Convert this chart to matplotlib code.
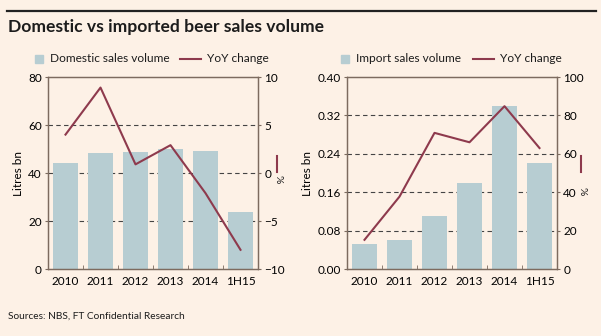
import numpy as np
import matplotlib.pyplot as plt
from matplotlib.lines import Line2D
from matplotlib.patches import Rectangle

# Data
years = ['2010', '2011', '2012', '2013', '2014', '1H15']
domestic_vol = [44.3, 48.3, 48.9, 50.0, 49.3, 23.9]
domestic_yoy = [4.0, 8.9, 0.9, 2.9, -2.1, -8.0]
import_vol = [0.052, 0.061, 0.110, 0.180, 0.340, 0.220]
import_yoy = [15.2, 37.7, 70.9, 66.0, 84.8, 63.0]

bg = '#fdf1e6'
bar_col = '#b7cdd2'
line_col = '#8e3a4d'
spine_col = '#7d6b5f'
txt = '#1c1c1c'

plt.rcParams['font.family'] = ['Lato', 'DejaVu Sans']
plt.rcParams['text.color'] = txt

W, H = 601, 336
fig = plt.figure(figsize=(W / 100, H / 100), dpi=100, facecolor=bg)


def fx(px):
    return px / W


def fy(py):
    return 1 - py / H


# header rule, title, source
fig.add_artist(Line2D([fx(7), fx(596)], [fy(11), fy(11)], color='#222222', lw=1.6))
fig.text(fx(8), fy(27), 'Domestic vs imported beer sales volume', fontsize=12.6,
         fontweight='bold', va='center', ha='left')
fig.text(fx(8), fy(316), 'Sources: NBS, FT Confidential Research', fontsize=7.3,
         va='center', ha='left')


def legend_row(x, label, line_x):
    fig.add_artist(Rectangle((fx(x), fy(63)), fx(8), 8 / H, color=bar_col))
    fig.text(fx(x + 15), fy(59), label, fontsize=8.6, va='center', ha='left')
    fig.add_artist(Line2D([fx(line_x), fx(line_x + 21)], [fy(59), fy(59)],
                          color=line_col, lw=1.5))
    fig.text(fx(line_x + 27), fy(59), 'YoY change', fontsize=8.6, va='center', ha='left')


def panel(x0, vol, yoy, lylim, lticks, lfmt, rylim, rticks, pct):
    ax = fig.add_axes([fx(x0), fy(269), fx(210), 192 / H])
    ax.set_facecolor(bg)
    x = np.arange(len(years))
    ax.bar(x, vol, width=0.72, color=bar_col, zorder=2)
    ax.set_xlim(-0.5, len(years) - 0.5)
    ax.set_ylim(*lylim)
    ax.set_yticks(lticks)
    ax.set_yticklabels([lfmt(t) for t in lticks])
    ax.set_xticks(x)
    ax.set_xticklabels(years)
    ax.set_xticks(np.arange(0.5, len(years) - 1, 1), minor=True)
    ax.tick_params(axis='x', which='major', length=0, labelsize=8.5, pad=5)
    ax.tick_params(axis='x', which='minor', direction='in', length=3, color=spine_col)
    ax.tick_params(axis='y', length=2.5, color=spine_col, labelsize=8.5, pad=2)
    ax.set_ylabel('Litres bn', fontsize=8.5, labelpad=3)
    for t in lticks[1:-1]:
        ax.axhline(t, color='#444444', lw=0.8, ls=(0, (4, 3)), zorder=1)
    for s in ax.spines.values():
        s.set_color(spine_col)
        s.set_linewidth(0.9)

    ax2 = ax.twinx()
    ax2.plot(x, yoy, color=line_col, lw=1.5, zorder=3)
    ax2.set_ylim(*rylim)
    ax2.set_yticks(rticks)
    ax2.tick_params(axis='y', length=2.5, color=spine_col, labelsize=8.5, pad=2)
    for s in ax2.spines.values():
        s.set_color(spine_col)
        s.set_linewidth(0.9)

    # unit marker for the right axis
    px = x0 + 210 + pct[0]
    fig.add_artist(Line2D([fx(px), fx(px)], [fy(156), fy(172)], color=line_col, lw=1.5))
    fig.text(fx(px + 1), fy(pct[1]), '%', fontsize=7.5, rotation=-90,
             ha='center', va='center')


panel(48, domestic_vol, domestic_yoy, (0, 80), [0, 20, 40, 60, 80],
      lambda t: f'{t:.0f}', (-10, 10), [-10, -5, 0, 5, 10], (19, 179))
panel(347, import_vol, import_yoy, (0, 0.40), [0, 0.08, 0.16, 0.24, 0.32, 0.40],
      lambda t: f'{t:.2f}', (0, 100), [0, 20, 40, 60, 80, 100], (24, 191))

legend_row(35, 'Domestic sales volume', 180)
legend_row(341, 'Import sales volume', 473)

fig.savefig('out.png', dpi=100, facecolor=bg)
